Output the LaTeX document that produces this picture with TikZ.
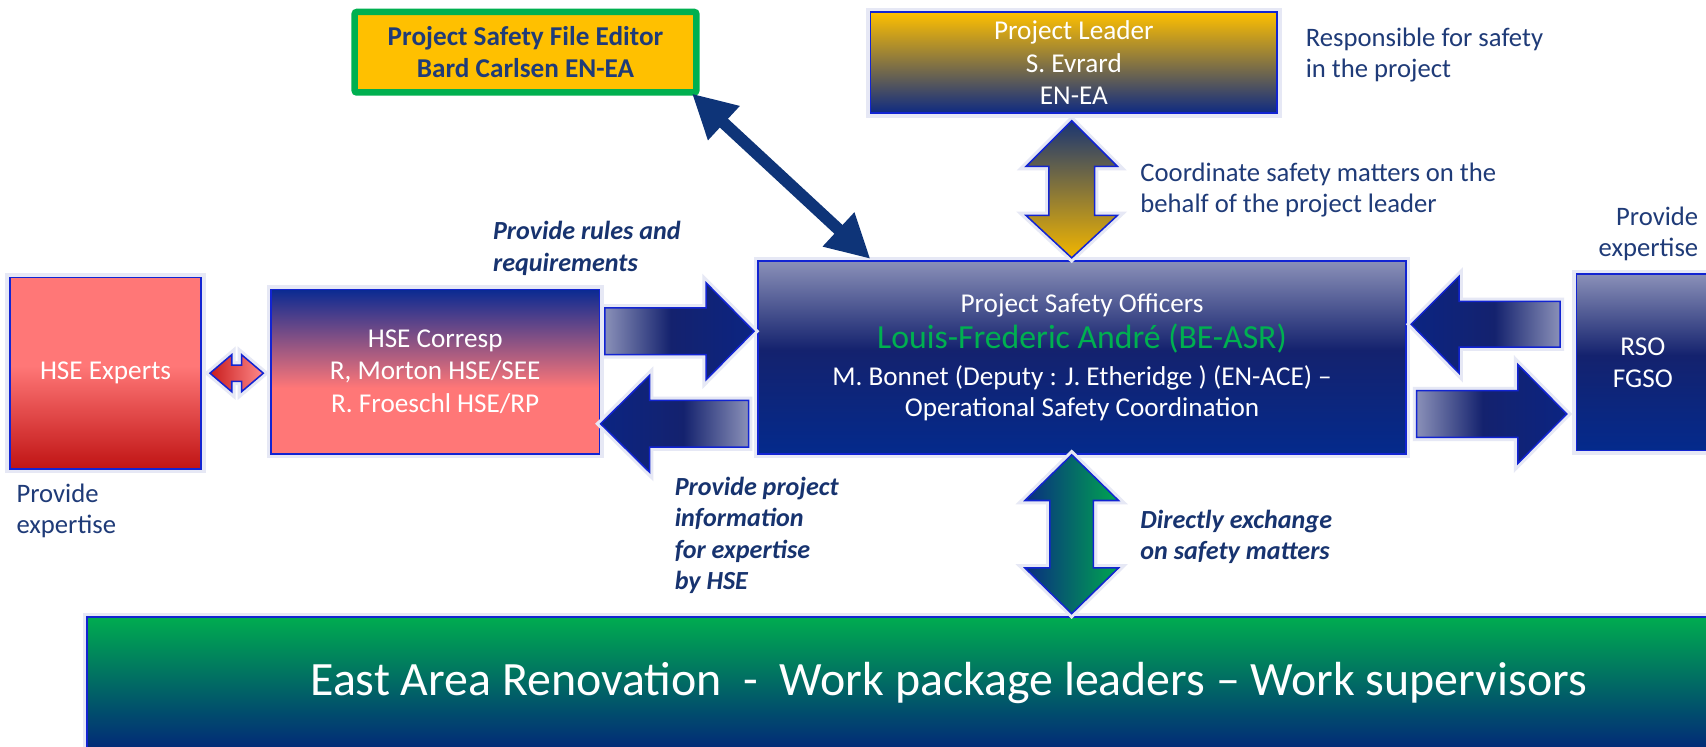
\documentclass[tikz,border=0pt]{standalone}
\usepackage{fontspec}
\setmainfont{Carlito}
\usetikzlibrary{arrows.meta}
\definecolor{txtblue}{HTML}{1F3B78}
\definecolor{itblue}{HTML}{17336F}
\definecolor{bordc}{HTML}{1224D2}
\definecolor{glowc}{HTML}{E6E8F5}
\definecolor{lightb}{HTML}{8A90B8}
\definecolor{navyA}{HTML}{14226E}
\definecolor{navyB}{HTML}{042A8C}
\definecolor{navyC}{HTML}{0A2A92}
\definecolor{navyD}{HTML}{0B2482}
\definecolor{goldc}{HTML}{FFC000}
\definecolor{goldb}{HTML}{F2B600}
\definecolor{plnavy}{HTML}{0E2A82}
\definecolor{arrtop}{HTML}{1A3572}
\definecolor{psgreen}{HTML}{00B050}
\definecolor{grarrow}{HTML}{00A650}
\definecolor{grnavy}{HTML}{0A2D80}
\definecolor{pinkc}{HTML}{FF7777}
\definecolor{redc}{HTML}{C01414}
\definecolor{redarr}{HTML}{C81C1C}
\definecolor{pinkarr}{HTML}{FF8A8A}
\definecolor{bargreen}{HTML}{00AC50}
\definecolor{barnavy}{HTML}{022878}
\definecolor{diagc}{HTML}{0E3478}
\pgfdeclareverticalshading{psoshade}{100bp}{color(0bp)=(navyB); color(25bp)=(navyB); color(52bp)=(navyA); color(75bp)=(lightb); color(100bp)=(lightb)}
\pgfdeclareverticalshading{hseshade}{100bp}{color(0bp)=(pinkc); color(25bp)=(pinkc); color(45bp)=(pinkc); color(75bp)=(navyC); color(100bp)=(navyC)}
\pgfdeclareverticalshading{expshade}{100bp}{color(0bp)=(redc); color(25bp)=(redc); color(52bp)=(pinkc); color(75bp)=(pinkc); color(100bp)=(pinkc)}
\pgfdeclarehorizontalshading{arrR}{100bp}{color(0bp)=(lightb); color(25bp)=(lightb); color(47bp)=(navyA); color(75bp)=(navyD); color(100bp)=(navyD)}
\pgfdeclarehorizontalshading{arrL}{100bp}{color(0bp)=(navyD); color(25bp)=(navyD); color(53bp)=(navyA); color(75bp)=(lightb); color(100bp)=(lightb)}
\begin{document}
\begin{tikzpicture}[x=1pt,y=-1pt,
  box/.style={inner sep=0pt, outer sep=0pt, anchor=north west,
    text=white, align=center, font=\fontsize{25}{29.5}\selectfont,
    preaction={draw=glowc, line width=8pt},
    postaction={draw=bordc, line width=1.6pt}},
  blk/.style={preaction={draw=glowc, line width=7pt}, postaction={draw=bordc, line width=1.4pt}},
  lbl/.style={inner sep=0pt, text=txtblue, font=\fontsize{24.5}{29}\selectfont},
  ilbl/.style={inner sep=0pt, text=itblue, font=\fontsize{24}{29}\selectfont\bfseries\itshape}]
\useasboundingbox (0,0) rectangle (1568,686);
\fill[white] (0,0) rectangle (1568,686);
% boxes
\node[box, shade, shading=expshade, minimum width=176pt, minimum height=176pt] (exp) at (9,255) {HSE Experts};
\node[box, shade, shading=hseshade, minimum width=302pt, minimum height=151pt, font=\fontsize{25}{30}\selectfont] (hsec) at (249,266) {HSE Corresp\\R, Morton HSE/SEE\\R. Froeschl HSE/RP};
\node[box, shade, shading=psoshade, minimum width=595pt, minimum height=177pt, font=\fontsize{25}{28}\selectfont] (pso) at (697,240)
  {Project Safety Officers\\[5pt]{\fontsize{31}{36}\selectfont\color{psgreen}Louis-Frederic André (BE-ASR)}\\[6pt]M. Bonnet (Deputy : J. Etheridge ) (EN-ACE) –\\Operational Safety Coordination};
\node[box, shade, shading=psoshade, minimum width=122pt, minimum height=162pt] (rso) at (1449,252) {RSO\\FGSO};
\node[box, top color=goldc, bottom color=plnavy, minimum width=374pt, minimum height=93pt] (pl) at (800,11) {Project Leader\\S. Evrard\\EN-EA};
\node[draw=psgreen, line width=6pt, fill=goldc, rounded corners=2pt, inner sep=0pt, outer sep=0pt, anchor=north west,
  minimum width=314pt, minimum height=74pt, align=center, text=txtblue, font=\fontsize{25}{29}\selectfont\bfseries] (psfe) at (326,11)
  {Project Safety File Editor\\Bard Carlsen EN-EA};
\node[box, top color=bargreen, bottom color=barnavy, minimum width=1584pt, minimum height=122pt, font=\fontsize{44}{50}\selectfont] (bar) at (80,567)
  {East Area Renovation\ \ -\ \ Work package leaders – Work supervisors};
% diagonal double arrow
\draw[diagc, line width=11pt, {Triangle[length=40pt,width=40pt]}-{Triangle[length=40pt,width=40pt]}]
  ([shift={(-4,1)}]psfe.south east) -- ([shift={(103,-2)}]pso.north west);
% block arrows
\path[blk, shade, shading=arrR] (556,283) -- (649,283) -- (649,260) -- (693,304.5) -- (649,349) -- (649,326) -- (556,326) -- cycle;
\path[blk, shade, shading=arrL] (688,368) -- (597,368) -- (597,345) -- (552,389.5) -- (597,434) -- (597,411) -- (688,411) -- cycle;
\path[blk, shade, shading=arrL] (1434,277) -- (1341,277) -- (1341,254) -- (1297,298) -- (1341,343) -- (1341,319) -- (1434,319) -- cycle;
\path[blk, shade, shading=arrR] (1302,359) -- (1395,359) -- (1395,335) -- (1440,380.5) -- (1395,426) -- (1395,402) -- (1302,402) -- cycle;
% vertical double arrows
\path[blk, top color=arrtop, bottom color=goldb] (985,111) -- (1027,153) -- (1006,153) -- (1006,198) -- (1027,198) -- (985,237) -- (943,198) -- (964,198) -- (964,153) -- (943,153) -- cycle;
\path[blk, left color=grnavy, right color=grarrow] (985,418) -- (1028,460) -- (1005,460) -- (1005,522) -- (1028,522) -- (985,564) -- (942,522) -- (965,522) -- (965,460) -- (942,460) -- cycle;
% small red double arrow
\path[blk, left color=redarr, right color=pinkarr] (193,343) -- (213,326) -- (213,335.5) -- (222,335.5) -- (222,326) -- (242,343) -- (222,360) -- (222,350.5) -- (213,350.5) -- (213,360) -- cycle;
% labels
\node[lbl, anchor=west, align=left] (resp) at (1200,50.5) {Responsible for safety\\in the project};
\node[lbl, anchor=west, align=left] (coord) at (1048,174.5) {Coordinate safety matters on the\\behalf of the project leader};
\node[lbl, anchor=east, align=right] (expR) at (1561,215) {Provide\\expertise};
\node[lbl, anchor=west, align=left] (expL) at (15,469.5) {Provide\\expertise};
\node[ilbl, anchor=west, align=left] (rules) at (453,228.5) {Provide rules and\\requirements};
\node[ilbl, anchor=west, align=left] (info) at (620,492) {Provide project\\information\\for expertise\\by HSE};
\node[ilbl, anchor=west, align=left] (direct) at (1048,493.5) {Directly exchange\\on safety matters};
\end{tikzpicture}
\end{document}
